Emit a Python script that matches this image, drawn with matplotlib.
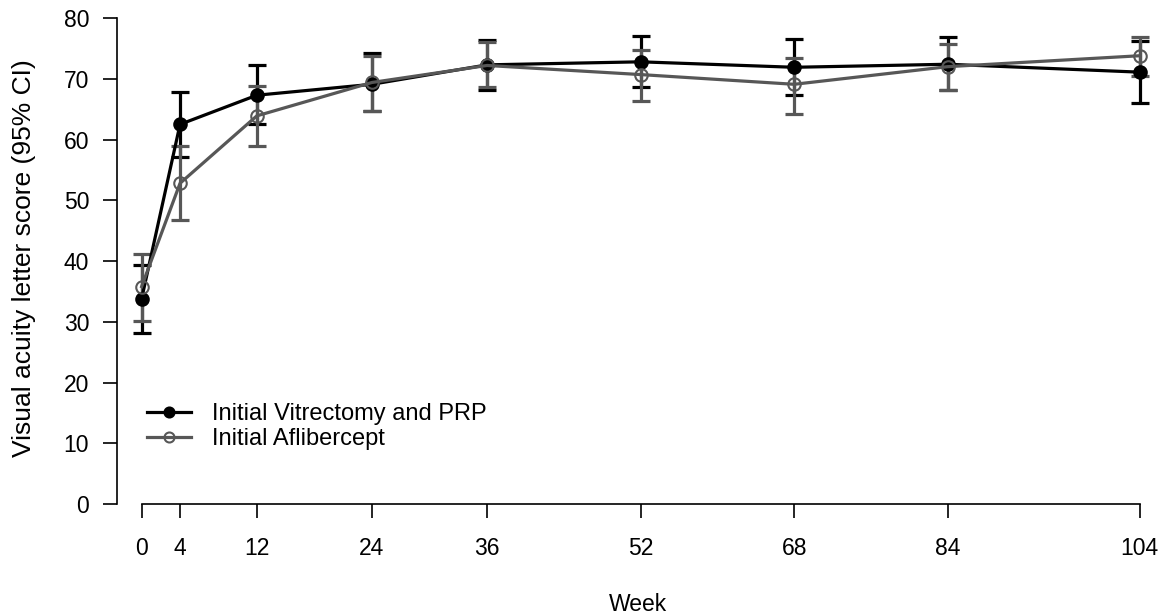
import matplotlib
matplotlib.use("Agg")
import matplotlib.pyplot as plt
import numpy as np

plt.rcParams["font.family"] = ["Liberation Sans", "DejaVu Sans"]

# data
weeks = [0, 4, 12, 24, 36, 52, 68, 84, 104]

vit_mean = [33.8, 62.5, 67.3, 69.1, 72.3, 72.8, 71.9, 72.4, 71.1]
vit_lo = [28.2, 57.2, 62.6, 64.7, 68.1, 68.7, 67.4, 68.1, 66.1]
vit_hi = [39.3, 67.9, 72.3, 74.2, 76.4, 77.0, 76.5, 76.9, 76.3]

afl_mean = [35.8, 52.8, 63.9, 69.4, 72.2, 70.7, 69.1, 72.0, 73.8]
afl_lo = [30.2, 46.8, 58.9, 64.7, 68.6, 66.3, 64.2, 68.1, 70.5]
afl_hi = [41.2, 58.9, 68.8, 73.7, 76.1, 74.7, 73.4, 75.7, 76.9]

labels = ["Initial Vitrectomy and PRP", "Initial Aflibercept"]
black = "#000000"
grey = "#575757"

fig = plt.figure(figsize=(11.64, 6.16), dpi=100)
ax = fig.add_axes([0.1005, 0.1818, 0.895, 0.7987])


def draw_series(mean, lo, hi, color, filled, label, z):
    mean = np.array(mean)
    yerr = [mean - np.array(lo), np.array(hi) - mean]
    ax.errorbar(weeks, mean, yerr=yerr, fmt="none", ecolor=color,
                elinewidth=2.3, capsize=6.5, capthick=2.3, zorder=z)
    ax.plot(weeks, mean, color=color, lw=2.3, marker="o", ms=9,
            mfc=color if filled else "none", mec=color, mew=1.5,
            label=label, zorder=z + 2)


draw_series(vit_mean, vit_lo, vit_hi, black, True, labels[0], 2)
draw_series(afl_mean, afl_lo, afl_hi, grey, False, labels[1], 3)

ax.set_xlim(-2.57, 106)
ax.set_ylim(0, 81)
ax.spines["top"].set_visible(False)
ax.spines["right"].set_visible(False)
ax.spines["left"].set_bounds(0, 80)
ax.spines["bottom"].set_bounds(0, 104)
for s in ("left", "bottom"):
    ax.spines[s].set_linewidth(1.2)

ax.set_xticks(weeks)
ax.set_yticks(range(0, 81, 10))
ax.tick_params(axis="both", length=10, width=1.2, labelsize=16.5)
ax.tick_params(axis="x", pad=13.5)
ax.tick_params(axis="y", pad=10)

ax.set_xlabel("Week", fontsize=16.5, labelpad=24)
ax.set_ylabel("Visual acuity letter score (95% CI)", fontsize=19, labelpad=20)

ax.legend(loc="upper left", bbox_to_anchor=(0.0198, 0.2236), frameon=False,
          fontsize=17, handlelength=1.86, handletextpad=0.9, labelspacing=0.12,
          borderaxespad=0, markerscale=0.8)

fig.savefig("out.png", dpi=100)
